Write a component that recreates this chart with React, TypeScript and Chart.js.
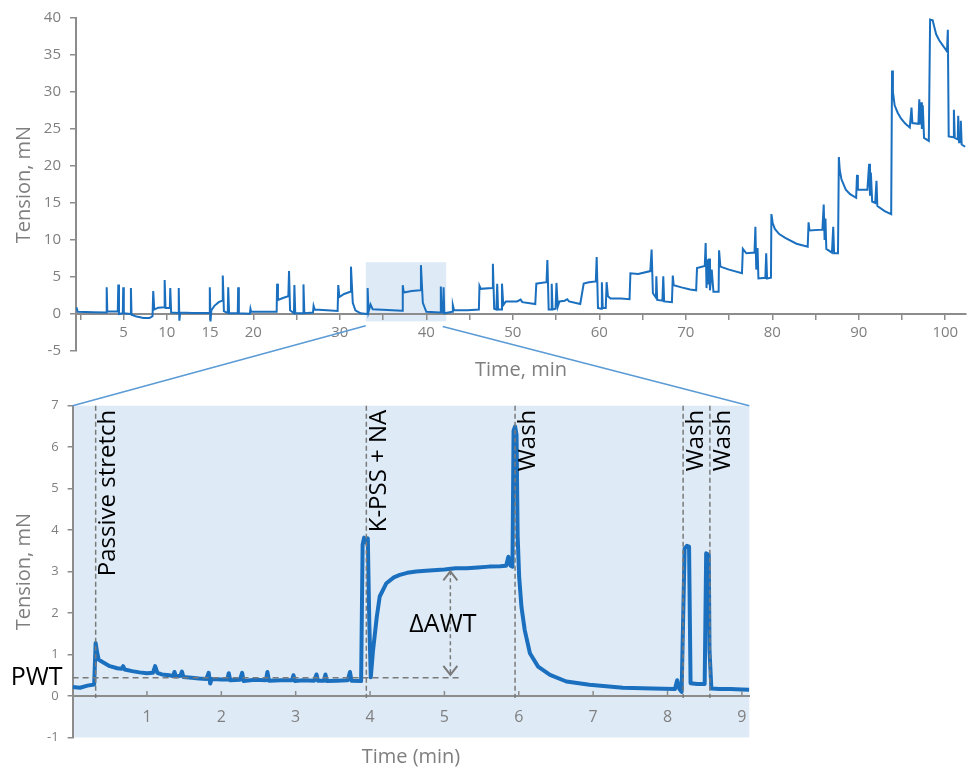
import React, { useEffect, useRef } from 'react';
import { Chart, registerables } from 'chart.js';

Chart.register(...registerables);

// ---------- Overview recording (top panel): [time min, tension mN] ----------
const OVERVIEW_POINTS: [number, number][] = [
  [-0.45, 0.9], [-0.3, 0.3], [1.5, 0.25], [3.0, 0.2], [3.05, 3.6], [3.12, 0.35], [4.33, 0.35], [4.39, 4.0], [4.47, 0.0],
  [4.91, 0.1], [4.96, 3.6], [5.03, 0.1], [5.8, 0.0], [5.85, 3.5], [5.92, -0.1], [6.5, -0.35], [7.3, -0.55], [8.0, -0.55],
  [8.35, -0.3], [8.43, 3.1], [8.55, 0.6], [9.0, 0.85], [9.7, 0.9], [9.75, 4.6], [9.85, 0.8], [10.35, 0.8], [10.4, 3.5],
  [10.5, 0.2], [11.3, 0.15], [11.38, 3.5], [11.45, -0.9], [11.55, 0.2], [13.0, 0.15], [14.9, 0.15], [14.97, 3.6],
  [15.05, -1.0], [15.15, 0.5], [15.5, 1.1], [16.0, 1.6], [16.4, 1.8], [16.47, 5.2], [16.6, 0.4], [16.9, 0.2], [17.05, 0.15],
  [17.1, 3.6], [17.2, 0.1], [18.2, 0.1], [18.25, 3.6], [18.33, 0.1], [19.6, 0.05], [19.67, 0.7], [19.75, 0.3], [22.7, 0.3],
  [22.75, 4.1], [22.85, 1.9], [23.5, 2.2], [24.05, 2.4], [24.13, 5.8], [24.25, 0.5], [24.7, 0.1], [24.75, 3.9], [24.85, 0.1],
  [25.75, 0.1], [25.8, 4.0], [25.9, 0.1], [26.9, 0.2], [26.97, 1.1], [27.1, 0.6], [28.5, 0.5], [29.75, 0.4], [29.82, 3.9],
  [29.95, 2.3], [30.5, 2.7], [31.2, 3.0], [31.29, 6.4], [31.5, 1.5], [31.8, 0.5], [32.4, 0.1], [33.15, 0.0], [33.22, 3.5],
  [33.32, 0.3], [33.55, 1.3], [33.8, 0.65], [35.5, 0.55], [37.2, 0.45], [37.28, 3.9], [37.4, 2.9], [38.3, 3.1], [39.3, 3.2],
  [39.38, 6.6], [39.6, 1.5], [40.0, 0.3], [41.6, 0.2], [41.68, 3.7], [41.76, 0.2], [41.93, 0.2], [42.0, 3.6], [42.08, 0.1],
  [43.0, 0.3], [43.07, 1.2], [43.2, 0.55], [44.8, 0.5], [46.08, 0.6], [46.15, 3.8], [46.3, 3.4], [47.6, 3.5], [47.7, 6.8],
  [47.85, 0.7], [48.1, 0.6], [48.2, 4.1], [48.3, 0.6], [48.65, 0.6], [48.75, 4.1], [48.9, 1.2], [49.2, 1.7], [50.5, 1.7],
  [50.9, 1.95], [51.1, 1.6], [52.6, 1.35], [52.72, 4.1], [53.2, 4.2], [53.9, 4.3], [54.0, 7.3], [54.15, 0.6], [54.45, 0.6],
  [54.5, 4.1], [54.6, 0.6], [54.95, 0.7], [55.05, 4.2], [55.2, 1.0], [55.4, 1.7], [56.0, 1.8], [56.3, 2.0], [56.5, 1.7],
  [57.8, 1.35], [58.2, 4.1], [58.8, 4.3], [59.6, 4.4], [59.7, 7.7], [59.85, 0.8], [60.2, 0.7], [60.3, 4.3], [60.4, 0.8],
  [60.75, 0.8], [60.85, 4.3], [61.0, 2.4], [61.3, 2.1], [62.5, 2.1], [63.5, 2.0], [63.6, 5.5], [64.5, 5.4], [65.9, 5.8],
  [66.05, 8.7], [66.2, 2.8], [66.55, 2.2], [66.6, 5.1], [66.7, 1.9], [67.3, 1.8], [67.4, 5.1], [67.5, 1.7], [68.4, 1.6],
  [68.5, 5.2], [68.6, 3.9], [69.5, 3.6], [70.5, 3.3], [71.2, 3.2], [71.3, 6.2], [72.2, 6.5], [72.3, 9.6], [72.4, 3.5],
  [72.5, 7.4], [72.6, 4.0], [72.7, 7.5], [72.8, 3.2], [73.0, 6.0], [73.2, 3.0], [73.8, 3.0], [73.85, 8.6], [74.0, 6.4],
  [75.0, 6.0], [76.5, 5.5], [76.6, 8.8], [77.0, 8.2], [77.95, 8.3], [78.05, 11.8], [78.15, 6.0], [78.3, 8.9], [78.4, 4.8],
  [79.2, 4.9], [79.3, 8.2], [79.4, 4.8], [79.85, 4.9], [79.9, 13.5], [80.05, 12.3], [80.3, 11.5], [80.8, 10.8], [81.5, 10.3],
  [82.8, 9.5], [84.1, 9.1], [84.2, 12.4], [84.3, 11.3], [85.8, 11.4], [85.95, 14.8], [86.05, 10.0], [86.15, 12.9],
  [86.25, 8.8], [86.9, 8.3], [87.05, 11.8], [87.15, 8.2], [87.6, 8.2], [87.7, 21.2], [87.8, 19.5], [88.0, 18.2], [88.5, 16.8],
  [89.0, 16.2], [89.7, 15.7], [89.8, 18.8], [89.9, 16.8], [91.0, 16.8], [91.2, 20.3], [91.3, 16.0], [91.4, 19.1],
  [91.55, 15.2], [91.9, 15.0], [92.05, 18.0], [92.15, 14.6], [93.0, 13.9], [93.75, 13.5], [93.85, 32.9], [93.95, 30.0],
  [94.15, 28.2], [94.5, 27.2], [94.9, 26.4], [95.4, 25.7], [95.9, 25.2], [96.1, 27.9], [96.2, 25.8], [96.9, 25.7], [97.0, 29.0],
  [97.1, 25.6], [97.2, 28.6], [97.3, 25.0], [97.4, 28.2], [97.55, 23.8], [98.1, 23.4], [98.25, 39.8], [98.55, 39.7],
  [98.75, 38.7], [98.95, 37.8], [99.3, 37.0], [99.65, 36.4], [100.2, 35.5], [100.3, 38.4], [100.4, 24.0], [100.95, 23.9],
  [101.0, 27.6], [101.1, 23.8], [101.45, 23.6], [101.5, 26.8], [101.6, 23.2], [101.75, 23.2], [101.8, 26.1], [101.9, 22.9],
  [102.3, 22.6],
];

// ---------- Detail recording (bottom panel): [time min, tension mN] ----------
const DETAIL_POINTS: [number, number][] = [
  [0.0, 0.22], [0.1, 0.2], [0.2, 0.25], [0.29, 0.28], [0.31, 1.28], [0.33, 1.05], [0.35, 0.88], [0.42, 0.8], [0.5, 0.72],
  [0.6, 0.67], [0.66, 0.66], [0.68, 0.72], [0.7, 0.64], [0.8, 0.6], [0.9, 0.57], [1.0, 0.55], [1.08, 0.56], [1.11, 0.72],
  [1.14, 0.56], [1.2, 0.52], [1.3, 0.5], [1.35, 0.48], [1.37, 0.58], [1.39, 0.47], [1.45, 0.49], [1.47, 0.59], [1.49, 0.46],
  [1.6, 0.44], [1.7, 0.42], [1.8, 0.41], [1.83, 0.56], [1.85, 0.3], [1.87, 0.41], [2.0, 0.4], [2.08, 0.4], [2.1, 0.55],
  [2.12, 0.38], [2.25, 0.39], [2.28, 0.56], [2.3, 0.36], [2.45, 0.39], [2.6, 0.38], [2.62, 0.58], [2.64, 0.37], [2.8, 0.38],
  [2.95, 0.38], [2.97, 0.5], [2.99, 0.36], [3.1, 0.38], [3.25, 0.37], [3.28, 0.52], [3.3, 0.37], [3.38, 0.37], [3.4, 0.52],
  [3.42, 0.36], [3.55, 0.37], [3.7, 0.38], [3.73, 0.58], [3.75, 0.37], [3.88, 0.36], [3.9, 3.65], [3.92, 3.82], [3.95, 3.7],
  [3.97, 3.8], [3.99, 1.75], [4.01, 0.45], [4.04, 1.1], [4.09, 1.9], [4.13, 2.4], [4.22, 2.72], [4.32, 2.86], [4.4, 2.92],
  [4.5, 2.97], [4.62, 3.0], [4.75, 3.02], [4.85, 3.03], [5.0, 3.05], [5.15, 3.08], [5.3, 3.08], [5.45, 3.1], [5.6, 3.12],
  [5.75, 3.13], [5.83, 3.14], [5.86, 3.36], [5.89, 3.14], [5.915, 3.12], [5.93, 6.4], [5.95, 6.5], [5.97, 6.3], [5.985, 3.85],
  [6.005, 2.88], [6.036, 2.15], [6.08, 1.59], [6.15, 1.03], [6.26, 0.71], [6.42, 0.51], [6.64, 0.35], [6.95, 0.27],
  [7.4, 0.2], [7.8, 0.18], [8.1, 0.17], [8.13, 0.38], [8.16, 0.17], [8.19, 0.1], [8.23, 3.55], [8.26, 3.62], [8.29, 3.6],
  [8.31, 0.31], [8.4, 0.29], [8.5, 0.29], [8.52, 3.44], [8.555, 3.4], [8.565, 1.1], [8.59, 0.18], [8.7, 0.17], [8.85, 0.17],
  [9.0, 0.16], [9.1, 0.15],
];

// ---------- axes / annotations ----------
const OVERVIEW_X_LABELS = [5, 10, 15, 20, 30, 40, 50, 60, 70, 80, 90, 100];
const OVERVIEW_X_RANGE = [-0.5, 102.4];
const OVERVIEW_Y_RANGE = [-5, 40];
const DETAIL_X_RANGE = [0, 9.1];
const DETAIL_Y_RANGE = [-1, 7];
const ZOOM_WINDOW = [33.0, 42.3];
const CONNECTOR_STARTS: [number, number][] = [[33.0, -1.6], [41.9, -1.7]];

const EVENT_TIMES = [0.31, 3.95, 5.95, 8.21, 8.57];
const EVENT_LABELS = ['Passive stretch', 'K-PSS + NA', 'Wash', 'Wash', 'Wash'];
const PWT_LEVEL = 0.44;
const PWT_LINE_END = 5.23;
const AWT_LEVEL = 3.03;
const AWT_ARROW_TIME = 5.08;
const AWT_LABEL_POS: [number, number] = [4.98, 1.71];

const W = 971;
const H = 773;
const FONT = "'Open Sans', sans-serif";
const AXIS = '#8c8c8c';
const TEXT_GRAY = '#7f7f7f';
const DASH = '#7a7a7a';
const PANEL_FILL = '#deebf7';
const TRACE = '#1b6fbf';
const CONNECTOR = '#5b9bd5';

export default function App() {
  const topRef = useRef<HTMLCanvasElement>(null);
  const botRef = useRef<HTMLCanvasElement>(null);

  useEffect(() => {
    document.body.style.margin = '0';
    Chart.defaults.font.family = FONT;

    const overviewDecor = {
      id: 'overviewDecor',
      beforeDraw(chart: any) {
        const { ctx } = chart;
        const x = chart.scales.x;
        const y = chart.scales.y;
        ctx.save();
        ctx.fillStyle = '#ffffff';
        ctx.fillRect(0, 0, chart.width, chart.height);
        const x0 = x.getPixelForValue(ZOOM_WINDOW[0]);
        const x1 = x.getPixelForValue(ZOOM_WINDOW[1]);
        const y0 = y.getPixelForValue(DETAIL_Y_RANGE[1]);
        const y1 = y.getPixelForValue(DETAIL_Y_RANGE[0]);
        ctx.fillStyle = PANEL_FILL;
        ctx.fillRect(x0, y0, x1 - x0, y1 - y0);
        ctx.restore();
      },
    };

    const topChart = new Chart(topRef.current as HTMLCanvasElement, {
      type: 'line',
      data: {
        datasets: [
          {
            data: OVERVIEW_POINTS.map(([t, v]) => ({ x: t, y: v })),
            borderColor: TRACE,
            borderWidth: 2,
            pointRadius: 0,
            tension: 0,
            fill: false,
          },
        ],
      },
      options: {
        responsive: false,
        animation: false,
        events: [],
        layout: { padding: { left: 0, top: 17, right: 5, bottom: H - 351 } },
        plugins: { legend: { display: false }, tooltip: { enabled: false } },
        scales: {
          x: {
            type: 'linear',
            min: OVERVIEW_X_RANGE[0],
            max: OVERVIEW_X_RANGE[1],
            position: { y: 0 } as any,
            grid: { drawOnChartArea: false, drawTicks: true, tickLength: 5, color: AXIS, lineWidth: 1.5 },
            border: { display: true, color: AXIS, width: 2 },
            ticks: {
              stepSize: 5,
              includeBounds: false,
              autoSkip: false,
              maxRotation: 0,
              padding: 5,
              color: TEXT_GRAY,
              font: { size: 15, family: FONT },
              callback: (v: any) => (OVERVIEW_X_LABELS.includes(Number(v)) ? String(v) : ''),
            },
            title: {
              display: true,
              text: 'Time, min',
              color: TEXT_GRAY,
              font: { size: 20, family: FONT },
              padding: { top: 0, bottom: 0 },
            },
            afterFit: (s: any) => {
              s.height = 68;
            },
          },
          y: {
            type: 'linear',
            position: 'left',
            min: OVERVIEW_Y_RANGE[0],
            max: OVERVIEW_Y_RANGE[1],
            grid: { drawOnChartArea: false, drawTicks: true, tickLength: 6, color: AXIS, lineWidth: 1.5 },
            border: { display: true, color: AXIS, width: 2 },
            ticks: { stepSize: 5, padding: 9, color: TEXT_GRAY, font: { size: 15, family: FONT } },
            title: {
              display: true,
              text: 'Tension, mN',
              color: TEXT_GRAY,
              font: { size: 20, family: FONT },
              padding: { top: 12, bottom: 0 },
            },
            afterFit: (s: any) => {
              s.width = 76;
            },
          },
        },
      },
      plugins: [overviewDecor],
    });

    const detailDecor = {
      id: 'detailDecor',
      beforeDraw(chart: any) {
        const { ctx, chartArea: a } = chart;
        ctx.save();
        ctx.fillStyle = PANEL_FILL;
        ctx.fillRect(a.left, a.top, a.right - a.left, a.bottom - a.top);
        ctx.restore();
      },
      afterDatasetsDraw(chart: any) {
        const { ctx } = chart;
        const x = chart.scales.x;
        const y = chart.scales.y;
        const y0 = y.getPixelForValue(0);
        ctx.save();
        // inward tick marks on the time axis
        ctx.strokeStyle = AXIS;
        ctx.lineWidth = 1.5;
        x.ticks.forEach((t: any) => {
          if (t.value === 0) return;
          const px = x.getPixelForValue(t.value);
          ctx.beginPath();
          ctx.moveTo(px, y0);
          ctx.lineTo(px, y0 - 5);
          ctx.stroke();
        });
        // event lines
        ctx.strokeStyle = DASH;
        ctx.lineWidth = 1.5;
        ctx.setLineDash([5, 3]);
        EVENT_TIMES.forEach((t) => {
          const px = x.getPixelForValue(t);
          ctx.beginPath();
          ctx.moveTo(px, y.getPixelForValue(DETAIL_Y_RANGE[1]));
          ctx.lineTo(px, y.getPixelForValue(-0.05));
          ctx.stroke();
        });
        // PWT level
        ctx.setLineDash([6, 4]);
        ctx.beginPath();
        ctx.moveTo(x.getPixelForValue(0), y.getPixelForValue(PWT_LEVEL));
        ctx.lineTo(x.getPixelForValue(PWT_LINE_END), y.getPixelForValue(PWT_LEVEL));
        ctx.stroke();
        // AWT arrow
        const ax = x.getPixelForValue(AWT_ARROW_TIME);
        const aTop = y.getPixelForValue(AWT_LEVEL) + 1;
        const aBot = y.getPixelForValue(PWT_LEVEL) - 3;
        ctx.setLineDash([4, 3]);
        ctx.beginPath();
        ctx.moveTo(ax, aTop);
        ctx.lineTo(ax, aBot);
        ctx.stroke();
        ctx.setLineDash([]);
        ctx.lineWidth = 2;
        ctx.beginPath();
        ctx.moveTo(ax - 7, aTop + 9);
        ctx.lineTo(ax, aTop);
        ctx.lineTo(ax + 7, aTop + 9);
        ctx.moveTo(ax - 7, aBot - 9);
        ctx.lineTo(ax, aBot);
        ctx.lineTo(ax + 7, aBot - 9);
        ctx.stroke();
        // event labels
        ctx.fillStyle = '#000000';
        ctx.font = `24px ${FONT}`;
        const topPx = y.getPixelForValue(DETAIL_Y_RANGE[1]);
        EVENT_TIMES.forEach((t, i) => {
          const px = x.getPixelForValue(t);
          ctx.save();
          ctx.translate(px + 1, topPx + 4);
          ctx.rotate(-Math.PI / 2);
          ctx.textAlign = 'right';
          ctx.textBaseline = 'top';
          ctx.fillText(EVENT_LABELS[i], 0, 0);
          ctx.restore();
        });
        // ΔAWT and PWT labels
        ctx.font = `25px ${FONT}`;
        ctx.textAlign = 'center';
        ctx.textBaseline = 'middle';
        ctx.fillText('ΔAWT', x.getPixelForValue(AWT_LABEL_POS[0]), y.getPixelForValue(AWT_LABEL_POS[1]));
        ctx.textAlign = 'right';
        ctx.fillText('PWT', chart.chartArea.left - 10, y.getPixelForValue(PWT_LEVEL));
        ctx.restore();
      },
      afterDraw(chart: any) {
        const { ctx, chartArea: a } = chart;
        const tx = topChart.scales.x;
        const ty = topChart.scales.y;
        const ends = [
          [a.left, a.top],
          [a.right, a.top],
        ];
        ctx.save();
        ctx.strokeStyle = CONNECTOR;
        ctx.lineWidth = 1.6;
        CONNECTOR_STARTS.forEach(([t, v], i) => {
          ctx.beginPath();
          ctx.moveTo(tx.getPixelForValue(t), ty.getPixelForValue(v));
          ctx.lineTo(ends[i][0], ends[i][1]);
          ctx.stroke();
        });
        ctx.restore();
      },
    };

    const botChart = new Chart(botRef.current as HTMLCanvasElement, {
      type: 'line',
      data: {
        datasets: [
          {
            data: DETAIL_POINTS.map(([t, v]) => ({ x: t, y: v })),
            borderColor: TRACE,
            borderWidth: 4,
            pointRadius: 0,
            tension: 0,
            fill: false,
            borderJoinStyle: 'round',
          },
        ],
      },
      options: {
        responsive: false,
        animation: false,
        events: [],
        layout: { padding: { left: 0, top: 405.7, right: 221.7, bottom: 35.5 } },
        plugins: { legend: { display: false }, tooltip: { enabled: false } },
        scales: {
          x: {
            type: 'linear',
            min: DETAIL_X_RANGE[0],
            max: DETAIL_X_RANGE[1],
            position: { y: 0 } as any,
            grid: { drawOnChartArea: false, drawTicks: false, color: AXIS },
            border: { display: true, color: AXIS, width: 2 },
            ticks: {
              stepSize: 1,
              includeBounds: false,
              autoSkip: false,
              maxRotation: 0,
              padding: 12,
              color: TEXT_GRAY,
              font: { size: 16, family: FONT },
              callback: (v: any) => (Number(v) === 0 ? '' : String(v)),
            },
            title: {
              display: true,
              text: 'Time (min)',
              color: TEXT_GRAY,
              font: { size: 20, family: FONT },
              padding: { top: 0, bottom: 0 },
            },
            afterFit: (s: any) => {
              s.height = 73;
            },
          },
          y: {
            type: 'linear',
            position: 'left',
            min: DETAIL_Y_RANGE[0],
            max: DETAIL_Y_RANGE[1],
            grid: { drawOnChartArea: false, drawTicks: true, tickLength: 5, color: AXIS, lineWidth: 1.5 },
            border: { display: true, color: AXIS, width: 2 },
            ticks: { stepSize: 1, padding: 9, color: TEXT_GRAY, font: { size: 13, family: FONT } },
            title: {
              display: true,
              text: 'Tension, mN',
              color: TEXT_GRAY,
              font: { size: 20, family: FONT },
              padding: { top: 12, bottom: 0 },
            },
            afterFit: (s: any) => {
              s.width = 72.6;
            },
          },
        },
      },
      plugins: [detailDecor],
    });

    return () => {
      botChart.destroy();
      topChart.destroy();
    };
  }, []);

  return (
    <div style={{ position: 'absolute', left: 0, top: 0, width: W, height: H }}>
      <canvas ref={topRef} width={W} height={H} style={{ position: 'absolute', left: 0, top: 0 }} />
      <canvas ref={botRef} width={W} height={H} style={{ position: 'absolute', left: 0, top: 0 }} />
    </div>
  );
}
